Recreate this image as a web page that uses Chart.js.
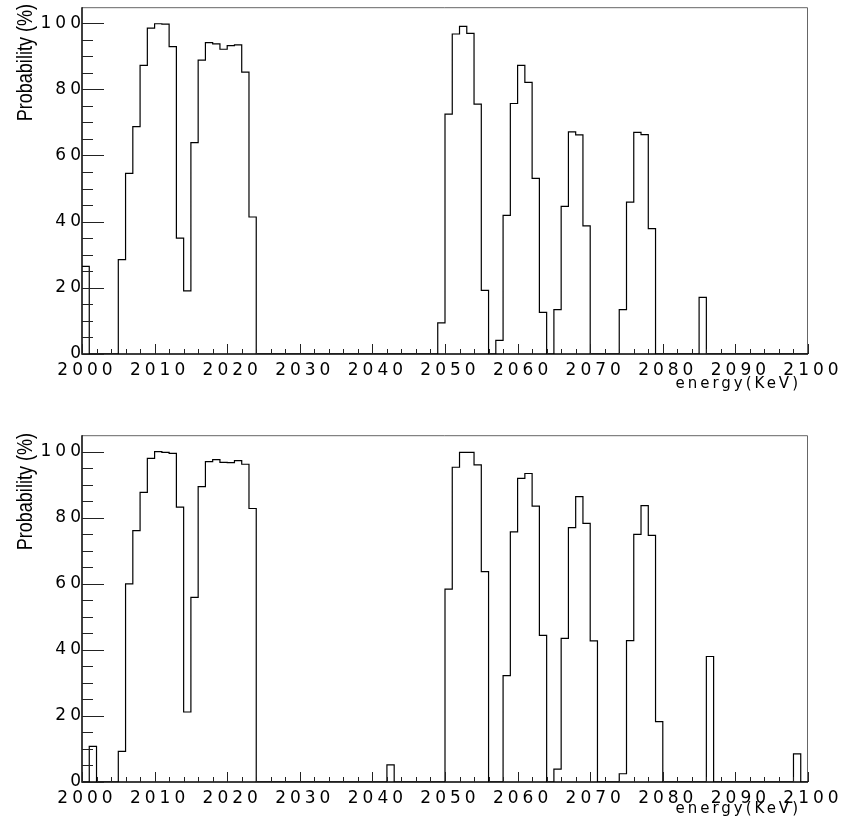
<!DOCTYPE html>
<html>
<head>
<meta charset="utf-8">
<script src="https://cdn.jsdelivr.net/npm/chart.js@4.4.1/dist/chart.umd.min.js"></script>
<style>
  body { margin: 0; background: #fff; overflow: hidden; }
  .panel { position: absolute; left: 0; width: 846px; height: 396px; }
  .ytitle {
    position: absolute; left: 0; top: 0; width: 150px; line-height: 22px; text-align: right;
    font-family: 'Liberation Sans', Arial, sans-serif; font-size: 22px;
    transform-origin: 0 0; white-space: nowrap; color: #000;
  }
  .xtitle {
    position: absolute; right: 45px; line-height: 16px;
    font-family: 'DejaVu Sans', sans-serif; font-size: 15px; letter-spacing: 3px; color: #000;
  }
</style>
</head>
<body>
<div class="panel" style="top:0"><canvas id="topHist" width="846" height="396"></canvas></div>
<div class="panel" style="top:428px"><canvas id="bottomHist" width="846" height="396"></canvas></div>
<div class="ytitle" style="transform: translate(14px, 127px) rotate(-90deg) scaleX(0.82)">Probability (%)</div>
<div class="ytitle" style="transform: translate(14px, 556px) rotate(-90deg) scaleX(0.82)">Probability (%)</div>
<div class="xtitle" style="top:375px">energy(KeV)</div>
<div class="xtitle" style="top:800px">energy(KeV)</div>
<script>
'use strict';

// 1 keV bins from 2000 to 2100
const binLow = 2000;
const binHigh = 2100;
const binWidth = 1;

// probability (%) per bin, upper histogram
const topProb = [
  26.5, 0, 0, 0, 0, 28.5, 54.6, 68.7, 87.2, 98.5,
  99.8, 99.7, 92.9, 35.0, 19.1, 63.9, 88.8, 94.1, 93.7, 92.1,
  93.2, 93.4, 85.2, 41.4, 0, 0, 0, 0, 0, 0,
  0, 0, 0, 0, 0, 0, 0, 0, 0, 0,
  0, 0, 0, 0, 0, 0, 0, 0, 0, 9.4,
  72.5, 96.7, 99.0, 96.9, 75.5, 19.2, 0, 4.1, 41.9, 75.7,
  87.2, 82.1, 53.1, 12.6, 0, 13.4, 44.6, 67.1, 66.2, 38.7,
  0, 0, 0, 0, 13.4, 45.9, 67.0, 66.3, 37.9, 0,
  0, 0, 0, 0, 0, 17.1, 0, 0, 0, 0,
  0, 0, 0, 0, 0, 0, 0, 0, 0, 0
];

// probability (%) per bin, lower histogram
const bottomProb = [
  0, 10.8, 0, 0, 0, 9.3, 60.0, 76.1, 87.7, 98.0,
  100.0, 99.8, 99.5, 83.2, 21.2, 55.9, 89.4, 97.0, 97.6, 96.8,
  96.7, 97.3, 96.2, 82.8, 0, 0, 0, 0, 0, 0,
  0, 0, 0, 0, 0, 0, 0, 0, 0, 0,
  0, 0, 5.2, 0, 0, 0, 0, 0, 0, 0,
  58.4, 95.3, 99.8, 99.8, 96.0, 63.7, 0, 0, 32.2, 75.7,
  91.9, 93.4, 83.5, 44.4, 0, 3.9, 43.5, 77.0, 86.4, 78.3,
  42.7, 0, 0, 0, 2.5, 42.8, 75.0, 83.7, 74.7, 18.3,
  0, 0, 0, 0, 0, 0, 38.0, 0, 0, 0,
  0, 0, 0, 0, 0, 0, 0, 0, 8.5, 0
];

const xTickStep = 10;
const yTickStep = 20;

const tickFont = { family: 'DejaVu Sans', size: 17 };

// ROOT-like frame with ticks drawn inward
const frameTicks = {
  id: 'frameTicks',
  beforeDraw(chart) {
    chart.ctx.letterSpacing = '4px';
  },
  afterDatasetsDraw(chart) {
    const { ctx, chartArea: a, scales: { x, y } } = chart;
    ctx.save();
    ctx.lineWidth = 1;
    ctx.strokeStyle = '#666';
    ctx.beginPath();
    ctx.moveTo(a.left, a.top + 0.5);
    ctx.lineTo(a.right - 0.5, a.top + 0.5);
    ctx.lineTo(a.right - 0.5, a.bottom);
    ctx.stroke();

    ctx.strokeStyle = '#000';
    ctx.lineWidth = 1.5;
    ctx.beginPath();
    ctx.moveTo(a.left, a.top);
    ctx.lineTo(a.left, a.bottom);
    ctx.lineTo(a.right, a.bottom);
    ctx.stroke();

    ctx.lineWidth = 1;
    ctx.strokeStyle = '#222';
    ctx.beginPath();
    for (let v = 0; v <= 100; v += 5) {
      const py = Math.round(y.getPixelForValue(v)) + 0.5;
      const len = v % yTickStep === 0 ? 22 : 11;
      ctx.moveTo(a.left, py);
      ctx.lineTo(a.left + len, py);
    }
    for (let e = binLow; e <= binHigh; e += 2) {
      const px = Math.round(x.getPixelForValue(e)) + 0.5;
      const len = e % xTickStep === 0 ? 10 : 5;
      ctx.moveTo(px, a.bottom);
      ctx.lineTo(px, a.bottom - len);
    }
    ctx.stroke();
    ctx.restore();
  }
};

function makePanel(canvasId, values, yMax) {
  const points = values.map((v, i) => ({ x: binLow + i * binWidth, y: v }));
  points.push({ x: binHigh, y: values[values.length - 1] });

  return new Chart(document.getElementById(canvasId), {
    type: 'line',
    data: {
      datasets: [{
        data: points,
        stepped: true,
        borderColor: '#000',
        borderWidth: 1.2,
        pointRadius: 0,
        fill: false
      }]
    },
    options: {
      responsive: false,
      animation: false,
      devicePixelRatio: 1,
      layout: { padding: { left: 0, top: 7, right: 38, bottom: 0 } },
      plugins: { legend: { display: false }, tooltip: { enabled: false } },
      scales: {
        x: {
          type: 'linear',
          min: binLow,
          max: binHigh,
          afterFit: s => { s.height = 42; },
          grid: { display: false, drawTicks: false },
          border: { display: false },
          ticks: {
            stepSize: xTickStep,
            autoSkip: false,
            maxRotation: 0,
            padding: 6,
            labelOffset: 5,
            color: '#000',
            font: tickFont,
            callback: v => String(v)
          }
        },
        y: {
          min: 0,
          max: yMax,
          afterFit: s => { s.width = 82; },
          grid: { display: false, drawTicks: false },
          border: { display: false },
          ticks: {
            stepSize: yTickStep,
            includeBounds: false,
            padding: -3,
            color: '#000',
            font: tickFont,
            callback: v => String(v)
          }
        }
      }
    },
    plugins: [frameTicks]
  });
}

makePanel('topHist', topProb, 104.8);
makePanel('bottomHist', bottomProb, 105);
</script>
</body>
</html>
